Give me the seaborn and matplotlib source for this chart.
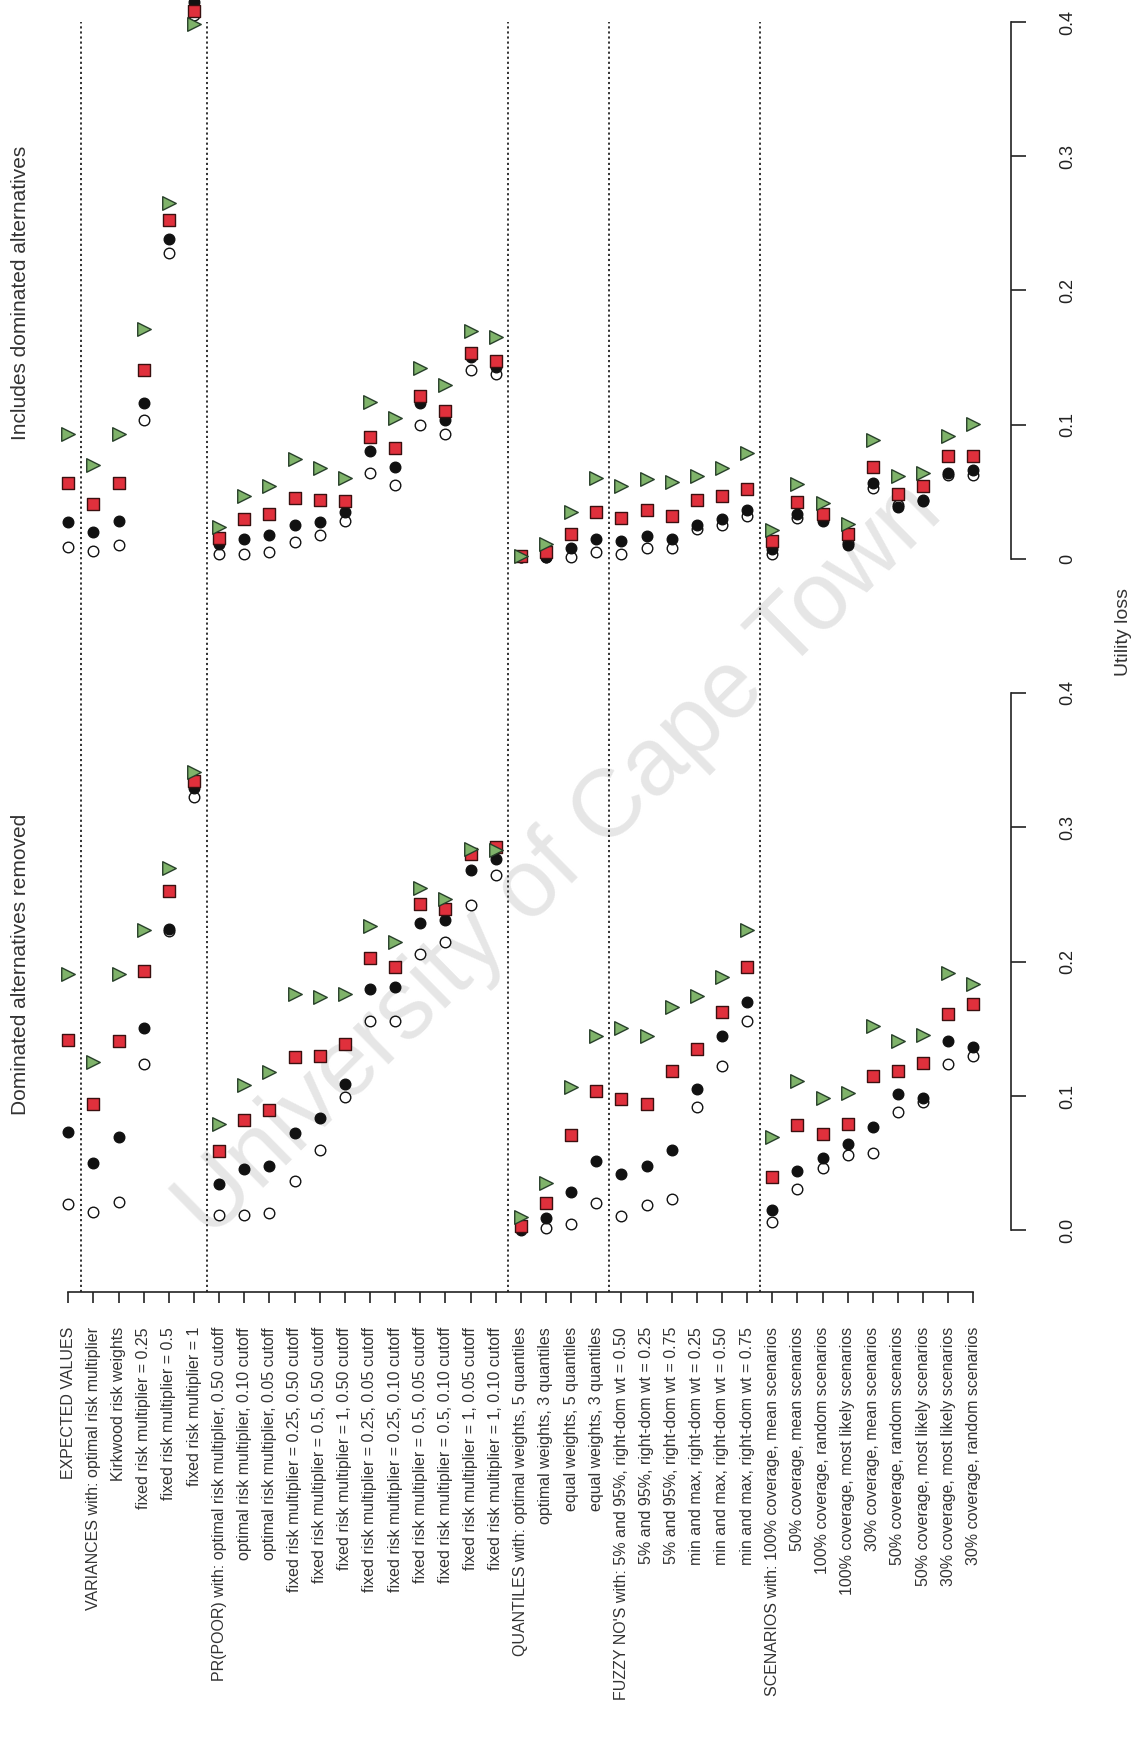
import numpy as np
import pandas as pd
import matplotlib
matplotlib.use("Agg")
import matplotlib.pyplot as plt
import seaborn as sns

# category labels, top to bottom in the original (left to right here)
categories = [
    "EXPECTED VALUES",
    "VARIANCES with: optimal risk multiplier",
    "Kirkwood risk weights",
    "fixed risk multiplier = 0.25",
    "fixed risk multiplier = 0.5",
    "fixed risk multiplier = 1",
    "PR(POOR) with: optimal risk multiplier, 0.50 cutoff",
    "optimal risk multiplier, 0.10 cutoff",
    "optimal risk multiplier, 0.05 cutoff",
    "fixed risk multiplier = 0.25, 0.50 cutoff",
    "fixed risk multiplier = 0.5, 0.50 cutoff",
    "fixed risk multiplier = 1, 0.50 cutoff",
    "fixed risk multiplier = 0.25, 0.05 cutoff",
    "fixed risk multiplier = 0.25, 0.10 cutoff",
    "fixed risk multiplier = 0.5, 0.05 cutoff",
    "fixed risk multiplier = 0.5, 0.10 cutoff",
    "fixed risk multiplier = 1, 0.05 cutoff",
    "fixed risk multiplier = 1, 0.10 cutoff",
    "QUANTILES with: optimal weights, 5 quantiles",
    "optimal weights, 3 quantiles",
    "equal weights, 5 quantiles",
    "equal weights, 3 quantiles",
    "FUZZY NO'S with: 5% and 95%, right-dom wt = 0.50",
    "5% and 95%, right-dom wt = 0.25",
    "5% and 95%, right-dom wt = 0.75",
    "min and max, right-dom wt = 0.25",
    "min and max, right-dom wt = 0.50",
    "min and max, right-dom wt = 0.75",
    "SCENARIOS with: 100% coverage, mean scenarios",
    "50% coverage, mean scenarios",
    "100% coverage, random scenarios",
    "100% coverage, most likely scenarios",
    "30% coverage, mean scenarios",
    "50% coverage, random scenarios",
    "50% coverage, most likely scenarios",
    "30% coverage, most likely scenarios",
    "30% coverage, random scenarios",
]
group_sizes = [1, 5, 12, 4, 6, 9]

# "Includes dominated alternatives"
incl_open = [0.0088, 0.006, 0.010, 0.103, 0.2277, 0.405, 0.0036, 0.0036, 0.005, 0.0124,
             0.0174, 0.028, 0.064, 0.055, 0.0993, 0.093, 0.141, 0.1374, 0.001, 0.001,
             0.0013, 0.005, 0.0036, 0.0077, 0.0077, 0.022, 0.0248, 0.0317, 0.0036, 0.030,
             0.030, 0.012, 0.0524, 0.040, 0.044, 0.062, 0.062]
incl_filled = [0.027, 0.020, 0.028, 0.1164, 0.238, 0.415, 0.011, 0.0146, 0.0174, 0.0248,
               0.027, 0.0344, 0.080, 0.0684, 0.116, 0.1035, 0.150, 0.143, 0.001, 0.001,
               0.0077, 0.0146, 0.0132, 0.0166, 0.0146, 0.0253, 0.0298, 0.0364, 0.0069, 0.033,
               0.028, 0.0104, 0.0565, 0.0386, 0.0427, 0.064, 0.066]
incl_square = [0.0565, 0.041, 0.0565, 0.1407, 0.2525, 0.408, 0.015, 0.0295, 0.033, 0.045,
               0.0435, 0.0427, 0.0905, 0.0828, 0.1214, 0.110, 0.1536, 0.147, 0.002, 0.005,
               0.0187, 0.0344, 0.030, 0.0364, 0.0317, 0.0435, 0.047, 0.0518, 0.0132, 0.0419,
               0.033, 0.0187, 0.0684, 0.048, 0.0538, 0.0767, 0.0767]
incl_triangle = [0.093, 0.070, 0.093, 0.171, 0.265, 0.399, 0.0234, 0.047, 0.054, 0.0745,
                 0.0676, 0.060, 0.117, 0.105, 0.142, 0.1296, 0.170, 0.1656, 0.002, 0.011,
                 0.0344, 0.060, 0.054, 0.059, 0.057, 0.0613, 0.0676, 0.0786, 0.0215, 0.0557,
                 0.0414, 0.026, 0.0888, 0.0613, 0.064, 0.0916, 0.1007]

# "Dominated alternatives removed"
rem_open = [0.0198, 0.0138, 0.0212, 0.1236, 0.223, 0.3229, 0.0116, 0.0116, 0.0129, 0.0366,
            0.060, 0.0991, 0.1555, 0.1555, 0.2056, 0.2147, 0.242, 0.2643, 0.0, 0.002,
            0.005, 0.0201, 0.0105, 0.0187, 0.0234, 0.0922, 0.1225, 0.1561, 0.0063, 0.0308,
            0.0468, 0.0564, 0.0578, 0.0881, 0.0955, 0.1239, 0.1299]
rem_filled = [0.073, 0.0504, 0.0696, 0.1506, 0.2244, 0.329, 0.0344, 0.0454, 0.0482, 0.0724,
              0.084, 0.1093, 0.1798, 0.1811, 0.2285, 0.2307, 0.2679, 0.2767, 0.001, 0.0091,
              0.0284, 0.0515, 0.0421, 0.0482, 0.060, 0.1052, 0.1445, 0.1701, 0.0151, 0.044,
              0.0542, 0.0641, 0.0771, 0.1013, 0.0983, 0.141, 0.1363]
rem_square = [0.1418, 0.0944, 0.141, 0.1933, 0.2527, 0.3345, 0.0592, 0.082, 0.0895, 0.1294,
              0.1299, 0.139, 0.2029, 0.1963, 0.2428, 0.2395, 0.2802, 0.285, 0.0036, 0.0206,
              0.071, 0.1041, 0.0977, 0.0944, 0.1184, 0.1349, 0.1624, 0.196, 0.0399, 0.0785,
              0.0716, 0.079, 0.1151, 0.1189, 0.1247, 0.161, 0.1688]
rem_triangle = [0.1908, 0.1253, 0.1908, 0.2235, 0.2698, 0.3414, 0.079, 0.1082, 0.1178, 0.1759,
                0.174, 0.1759, 0.2266, 0.2147, 0.2546, 0.2464, 0.2835, 0.283, 0.0102, 0.035,
                0.1068, 0.1445, 0.1509, 0.1445, 0.1666, 0.1748, 0.1886, 0.2238, 0.0696, 0.1109,
                0.0986, 0.1019, 0.1522, 0.141, 0.1454, 0.1913, 0.1831]

ticks = [0.0, 0.1, 0.2, 0.3, 0.4]
incl_ticklabels = ["0", "0.1", "0.2", "0.3", "0.4"]
rem_ticklabels = ["0.0", "0.1", "0.2", "0.3", "0.4"]

sns.set_style("white")
plt.rcParams['font.family'] = ['Liberation Sans', 'DejaVu Sans']

W, H = 1145, 1753
fig = plt.figure(figsize=(W / 100, H / 100), dpi=100)

# pixel layout helpers (pixels measured from the top-left)
x0_px, dx_px = 68.3, 25.14
split_px, axis_px = 620, 1292.3
xlim = (-x0_px / dx_px, (W - x0_px) / dx_px)
yaxis_x = (1011 - x0_px) / dx_px

ax_top = fig.add_axes([0, 1 - split_px / H, 1, split_px / H])
ax_bot = fig.add_axes([0, 1 - axis_px / H, 1, (axis_px - split_px) / H])

top_ylim = ((558.6 - split_px) / 1341, 558.6 / 1341)
bot_ylim = ((1230.4 - axis_px) / 1343.7, (1230.4 - split_px) / 1343.7)

xpos = np.arange(len(categories))
bounds = np.cumsum(group_sizes)[:-1] - 0.5

styles = [
    dict(marker='o', s=58, color='white', edgecolor='#111111', linewidth=1.0, zorder=3),
    dict(marker='o', s=58, color='#111111', edgecolor='#111111', linewidth=1.0, zorder=4),
    dict(marker='s', s=78, color='#e0303c', edgecolor='#3a1010', linewidth=1.0, zorder=5),
    dict(marker='>', s=95, color='#7fb36a', edgecolor='#28402a', linewidth=1.0, zorder=6),
]

panels = [
    (ax_top, [incl_open, incl_filled, incl_square, incl_triangle], top_ylim, incl_ticklabels),
    (ax_bot, [rem_open, rem_filled, rem_square, rem_triangle], bot_ylim, rem_ticklabels),
]

for ax, series, ylim, tlabels in panels:
    ax.patch.set_visible(False)
    for vals, st in zip(series, styles):
        sns.scatterplot(x=xpos, y=vals, ax=ax, legend=False, clip_on=False, **st)
    top_line = 0.4 if ax is ax_top else ylim[1]
    ax.vlines(bounds, ylim[0], top_line, colors='#222222', linestyles=(0, (1.2, 1.6)),
              linewidth=1.3, zorder=2)
    ax.set_xlim(*xlim)
    ax.set_ylim(*ylim)
    for sp in ['top', 'left', 'bottom']:
        ax.spines[sp].set_visible(False)
    ax.spines['right'].set_position(('data', yaxis_x))
    ax.spines['right'].set_bounds(0, 0.4)
    ax.spines['right'].set_color('#222222')
    ax.spines['right'].set_linewidth(1.2)
    ax.yaxis.tick_right()
    ax.set_yticks(ticks)
    ax.set_yticklabels(tlabels, rotation=90, va='center', ha='left')
    ax.tick_params(axis='y', direction='out', length=11, width=1.2, pad=24,
                   labelsize=13, colors='#222222', right=True)
    ax.set_xlabel('')
    ax.set_ylabel('')

ax_top.set_xticks([])

ax_bot.spines['bottom'].set_visible(True)
ax_bot.spines['bottom'].set_bounds(0, len(categories) - 1)
ax_bot.spines['bottom'].set_color('#222222')
ax_bot.spines['bottom'].set_linewidth(1.2)
ax_bot.set_xticks(xpos)
ax_bot.set_xticklabels(categories, rotation=90, fontsize=11.5, color='#333333')
ax_bot.tick_params(axis='x', direction='out', length=8, width=1.2, pad=17,
                   colors='#222222', labelcolor='#333333', bottom=True)

fig.text(21 / W, 1 - 293 / H, "Includes dominated alternatives", rotation=90,
         ha='center', va='center', fontsize=15, color='#333333')
fig.text(21 / W, 1 - 964 / H, "Dominated alternatives removed", rotation=90,
         ha='center', va='center', fontsize=15, color='#333333')
fig.text(1124 / W, 1 - 632 / H, "Utility loss", rotation=90,
         ha='center', va='center', fontsize=14, color='#333333')

# faint diagonal watermark
fig.text(560 / W, 1 - 861 / H, "University of Cape Town", rotation=44.6,
         ha='center', va='center', fontsize=69, color='#e6e6e6', zorder=-5)

plt.savefig("out.png", dpi=100)
